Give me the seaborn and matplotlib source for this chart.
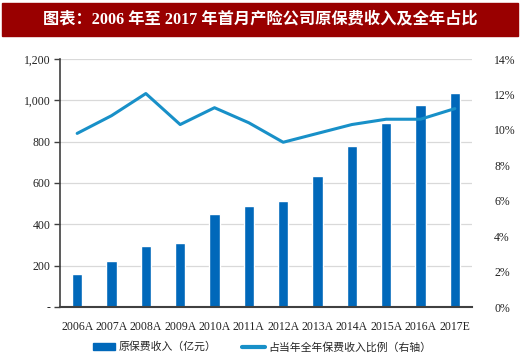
import matplotlib
matplotlib.use("Agg")
import matplotlib.pyplot as plt
import matplotlib.ticker as mticker
from matplotlib.patches import Rectangle, Patch
from matplotlib.lines import Line2D
import pandas as pd
import seaborn as sns

# data
years = ['2006A', '2007A', '2008A', '2009A', '2010A', '2011A',
         '2012A', '2013A', '2014A', '2015A', '2016A', '2017E']
premium = [159, 223, 294, 310, 451, 491, 515, 635, 777, 888, 978, 1036]
share_pct = [9.8, 10.8, 12.05, 10.3, 11.25, 10.4, 9.3, 9.8, 10.3, 10.6, 10.6, 11.2]

bar_label = '原保费收入（亿元）'
line_label = '占当年全年保费收入比例（右轴）'
title = '图表：2006 年至 2017 年首月产险公司原保费收入及全年占比'

bar_color = '#0068BA'
line_color = '#1890C8'

sns.set_theme(style='white')
plt.rcParams['font.family'] = ['Liberation Serif', 'Noto Sans CJK SC', 'DejaVu Sans']

df = pd.DataFrame({'year': years, 'premium': premium, 'share': share_pct})

fig = plt.figure(figsize=(5.2, 3.61), dpi=100)
ax = fig.add_axes([60 / 520, 1 - 307 / 361, 412 / 520, 248 / 361])

sns.barplot(data=df, x='year', y='premium', color=bar_color, width=0.3,
            saturation=1, ax=ax, zorder=2)
ax.set_ylim(0, 1200)
ax.set_yticks(range(0, 1201, 200))
ax.yaxis.set_major_formatter(mticker.FuncFormatter(
    lambda v, p: '-' if v == 0 else f'{int(v):,}'))
ax.grid(axis='y', color='#d9d9d9', lw=0.9, zorder=0)
ax.set_axisbelow(True)
ax.set_xlim(-0.5, len(years) - 0.5)
ax.set_xlabel('')
ax.set_ylabel('')
for s in ['top', 'right']:
    ax.spines[s].set_visible(False)
ax.spines['left'].set_color('#404040')
ax.spines['left'].set_linewidth(1.2)
ax.spines['bottom'].set_color('#404040')
ax.spines['bottom'].set_linewidth(1.5)
ax.tick_params(axis='y', left=True, length=4, width=1, color='#404040',
               labelsize=8.5, pad=3, labelcolor='#222222')
ax.tick_params(axis='x', bottom=False, labelsize=8.5, pad=4, labelcolor='#222222')

ax2 = ax.twinx()
sns.lineplot(x=list(range(len(years))), y=share_pct, color=line_color, lw=2.2,
             ax=ax2)
ax2.set_ylim(0, 14)
ax2.set_yticks(range(0, 15, 2))
ax2.yaxis.set_major_formatter(mticker.FuncFormatter(lambda v, p: f'{int(v)}%'))
ax2.tick_params(axis='y', right=False, labelsize=8.5, pad=10, labelcolor='#222222')
for s in ax2.spines.values():
    s.set_visible(False)
ax2.grid(False)

# title banner
fig.patches.append(Rectangle((2 / 520, 1 - 36 / 361), 516 / 520, 33 / 361,
                             transform=fig.transFigure, color='#990000',
                             zorder=0))
fig.text(0.5, 1 - 19.5 / 361, title, color='white', ha='center', va='center',
         fontsize=11.7, fontweight='bold',
         family=['Liberation Serif', 'Noto Sans CJK SC'])

handles = [Patch(color=bar_color, label=bar_label),
           Line2D([], [], color=line_color, lw=3, label=line_label)]
fig.legend(handles=handles, loc='center', bbox_to_anchor=(262 / 520, 1 - 347 / 361),
           ncol=2, frameon=False, handlelength=2.1, handleheight=0.6,
           columnspacing=2.4, handletextpad=0.3,
           prop={'family': ['Noto Sans CJK SC'], 'size': 7.8})

fig.savefig('out.png', dpi=100)
